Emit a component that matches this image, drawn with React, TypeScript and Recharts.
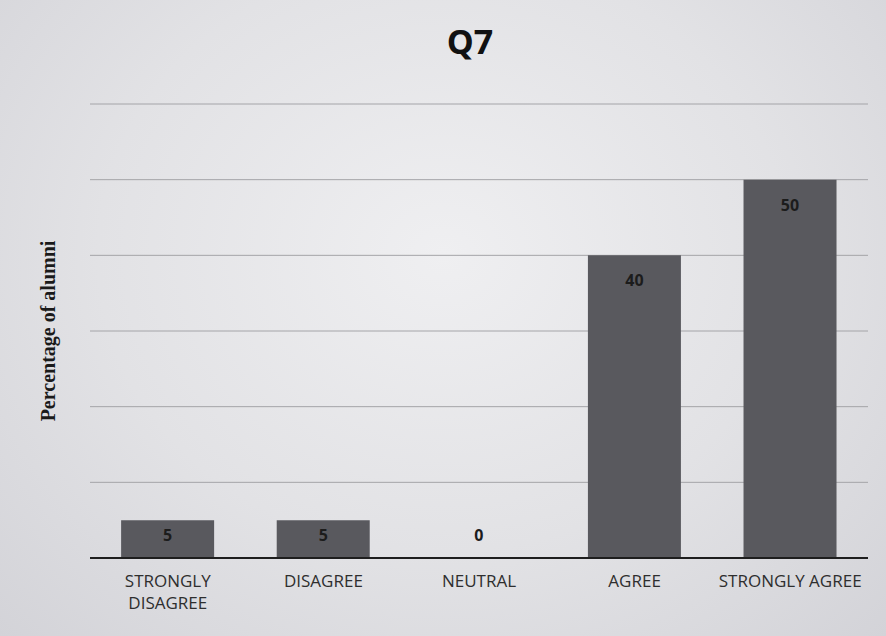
import React from 'react';
import { BarChart, Bar, XAxis, YAxis, CartesianGrid, LabelList, Text } from 'recharts';

const categories = ['STRONGLY DISAGREE', 'DISAGREE', 'NEUTRAL', 'AGREE', 'STRONGLY AGREE'];
const percentages = [5, 5, 0, 40, 50];
const yTicks = [0, 10, 20, 30, 40, 50, 60];

const data = categories.map((name, i) => ({ name, value: percentages[i] }));

const CategoryTick = (props: any) => {
    const { x, y, payload } = props;
    return (
        <Text
            x={x}
            y={y + 21}
            width={150}
            textAnchor="middle"
            verticalAnchor="middle"
            lineHeight={22}
            fill="#2e2e2e"
            style={{ fontFamily: '"Open Sans", sans-serif', fontSize: 17 }}
        >
            {payload.value}
        </Text>
    );
};

const ValueLabel = (props: any) => {
    const { x, y, width, height, value } = props;
    const cy = value === 0 ? y + height - 23 : Math.min(y + 25, y + height / 2 - 4);
    return (
        <text
            x={x + width / 2}
            y={cy}
            textAnchor="middle"
            dominantBaseline="central"
            fill="#1c1c1c"
            style={{ fontFamily: '"Open Sans", sans-serif', fontSize: 16, fontWeight: 700 }}
        >
            {value}
        </text>
    );
};

const App: React.FC = () => {
    return (
        <div
            style={{
                position: 'absolute',
                left: 0,
                top: 0,
                width: 886,
                height: 636,
                background: 'radial-gradient(ellipse at 50% 40%, #efeff1 0%, #e2e2e5 55%, #d3d3d8 100%)',
            }}
        >
            <div
                style={{
                    position: 'absolute',
                    left: 420,
                    top: 18,
                    width: 100,
                    textAlign: 'center',
                    fontFamily: '"Open Sans", sans-serif',
                    fontWeight: 700,
                    fontSize: 34,
                    color: '#111',
                }}
            >
                Q7
            </div>
            <BarChart
                width={886}
                height={636}
                data={data}
                margin={{ top: 104, right: 18, left: 0, bottom: 18 }}
                barCategoryGap="20%"
            >
                <CartesianGrid vertical={false} stroke="#a4a4a8" strokeWidth={1} />
                <XAxis
                    dataKey="name"
                    height={60}
                    tickLine={false}
                    axisLine={{ stroke: '#1e1e1e', strokeWidth: 2 }}
                    tick={<CategoryTick />}
                    interval={0}
                />
                <YAxis
                    width={90}
                    domain={[0, 60]}
                    ticks={yTicks}
                    tick={() => <g />}
                    tickLine={false}
                    axisLine={false}
                    label={{
                        value: 'Percentage of alumni',
                        angle: -90,
                        position: 'center',
                        dx: 3,
                        style: {
                            fontFamily: '"Liberation Serif", "DejaVu Serif", serif',
                            fontWeight: 700,
                            fontSize: 20,
                            fill: '#1a1a1a',
                        },
                    }}
                />
                <Bar dataKey="value" fill="#59595e" minPointSize={1} isAnimationActive={false}>
                    <LabelList dataKey="value" content={<ValueLabel />} />
                </Bar>
            </BarChart>
        </div>
    );
};

export default App;
